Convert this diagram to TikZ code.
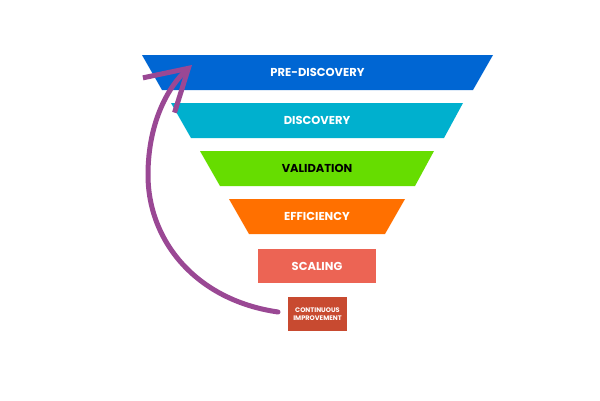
\documentclass[tikz,border=0pt]{standalone}
\usepackage{fontspec}
\setmainfont{Poppins}
\usetikzlibrary{arrows.meta}
\definecolor{cpre}{HTML}{0066D3}
\definecolor{cdisc}{HTML}{00B0CE}
\definecolor{cval}{HTML}{66DD00}
\definecolor{ceff}{HTML}{FF7000}
\definecolor{cscal}{HTML}{EC6454}
\definecolor{ccont}{HTML}{C84A30}
\definecolor{carrow}{HTML}{9A4894}
\begin{document}
\begin{tikzpicture}[x=1pt,y=-1pt,
  lbl/.style={font=\bfseries\fontsize{11.5}{13}\selectfont, text=white, inner sep=0pt},
  small/.style={font=\bfseries\fontsize{6.6}{8.5}\selectfont, text=white, align=center, inner sep=0pt},
  loop/.style={draw=carrow, line width=5pt, line cap=round, -{Straight Barb[length=40pt,width=47pt,line width=5pt]}}]
\useasboundingbox[fill=white] (0,0) rectangle (600,400);
\fill[cpre]  (142,55) -- (493,55) -- (473,90) -- (162,90) -- cycle;
\fill[cdisc] (171,103) -- (463,103) -- (444,138) -- (191,138) -- cycle;
\fill[cval]  (200,151) -- (434,151) -- (415,186) -- (220,186) -- cycle;
\fill[ceff]  (229,199) -- (405,199) -- (385,234) -- (249,234) -- cycle;
\fill[cscal] (258,249) rectangle (376,283);
\fill[ccont] (288,297) rectangle (347,331);
\node[lbl] (pre) at (317.5,72.5) {PRE-DISCOVERY};
\node[lbl] (disc) at (317,120.5) {DISCOVERY};
\node[lbl, text=black] (val) at (317,168.5) {VALIDATION};
\node[lbl] (eff) at (317,216.5) {EFFICIENCY};
\node[lbl] (scal) at (317,266) {SCALING};
\node[small] (cont) at (317.5,314) {CONTINUOUS\\IMPROVEMENT};
\coordinate (start) at (278,312);
\coordinate (tip) at (192,65);
\draw[loop] (start) .. controls (195,300) and (148,240) .. (148,175)
  .. controls (148,120) and (170,85) .. (tip);
\end{tikzpicture}
\end{document}
